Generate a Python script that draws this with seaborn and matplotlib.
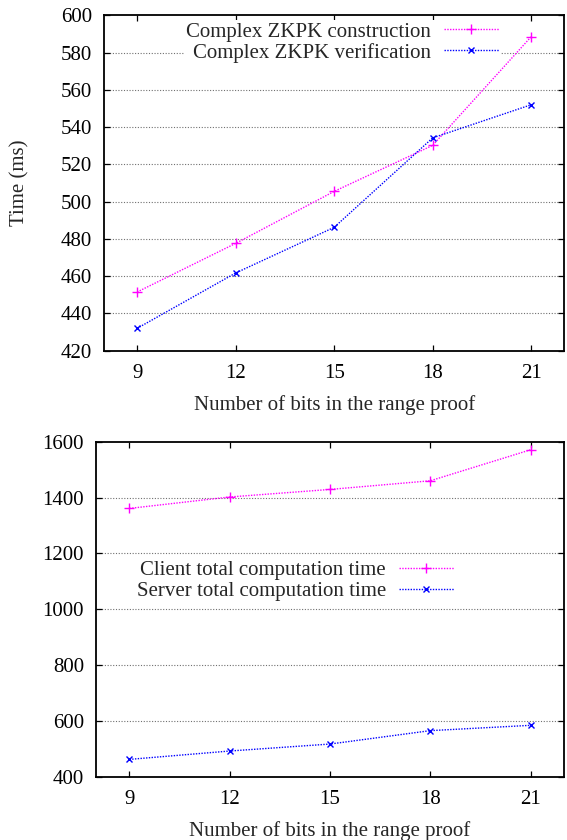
import matplotlib
matplotlib.use('Agg')
import matplotlib.pyplot as plt
import seaborn as sns
import pandas as pd

# ---------------------------------------------------------------- data
bits = [9, 12, 15, 18, 21]
zkpk_construction = [451.5, 477.6, 505.5, 530.2, 588.5]
zkpk_verification = [432.0, 461.7, 486.2, 534.2, 552.0]
client_total = [1361, 1402, 1429, 1460, 1571]
server_total = [462, 492, 517, 565, 584]

top_labels = ['Complex ZKPK construction', 'Complex ZKPK verification']
bottom_labels = ['Client total computation time', 'Server total computation time']

top_yticks = [420, 440, 460, 480, 500, 520, 540, 560, 580, 600]
bottom_yticks = [400, 600, 800, 1000, 1200, 1400, 1600]

MAGENTA = '#ff00ff'
BLUE = '#0000ff'
FS = 15


def draw_panel(ax, series, labels, yticks, legend_anchor):
    df = pd.DataFrame({'bits': bits})
    styles = [(MAGENTA, '+', 6.5), (BLUE, 'x', 5)]
    for vals, lab, (col, mk, ms) in zip(series, labels, styles):
        df[lab] = vals
        sns.lineplot(data=df, x='bits', y=lab, ax=ax, color=col, marker=mk,
                     markersize=ms, markeredgecolor=col, markeredgewidth=1.0,
                     linestyle=(0, (1, 1)), linewidth=1.0, label=lab)

    ax.set_xlim(8, 22)
    ax.set_ylim(yticks[0], yticks[-1])
    ax.set_xticks(bits)
    ax.set_yticks(yticks)
    ax.grid(False)
    for yv in yticks[1:-1]:
        ax.axhline(yv, color='#707070', linestyle=(0, (1, 1.5)), linewidth=0.8, zorder=0)

    ax.tick_params(axis='both', direction='in', top=True, right=True,
                   length=4.1, width=0.9, labelsize=FS, colors='black')
    ax.tick_params(axis='y', pad=8.6)
    ax.tick_params(axis='x', pad=9.5)
    for sp in ax.spines.values():
        sp.set_visible(True)
        sp.set_linewidth(1.3)
        sp.set_color('black')

    ax.set_xlabel('Number of bits in the range proof', fontsize=FS, labelpad=9)
    ax.set_ylabel('')

    leg = ax.legend(loc='center right', bbox_to_anchor=legend_anchor,
                    bbox_transform=ax.figure.transFigure, borderaxespad=0,
                    borderpad=0.1, markerfirst=False, numpoints=1,
                    handlelength=2.65, handletextpad=0.62, labelspacing=0.06,
                    fontsize=FS, frameon=True, fancybox=False,
                    framealpha=1.0, facecolor='white', edgecolor='none')
    for t in leg.get_texts():
        t.set_ha('right')
    return leg


sns.set_style('ticks')
plt.rcParams['font.family'] = ['Liberation Serif', 'DejaVu Serif']

fig = plt.figure(figsize=(5.67, 8.4), dpi=100)
W, H = 567.0, 840.0

ax1 = fig.add_axes([104.3 / W, 1 - 350.7 / H, (564 - 104.3) / W, (350.7 - 15.3) / H])
ax2 = fig.add_axes([96 / W, 1 - 776.7 / H, (564 - 96) / W, (776.7 - 441.7) / H])

draw_panel(ax1, [zkpk_construction, zkpk_verification], top_labels, top_yticks,
           (501 / W, 1 - 42.3 / H))
draw_panel(ax2, [client_total, server_total], bottom_labels, bottom_yticks,
           (456 / W, 1 - 581 / H))

ax1.set_ylabel('Time (ms)', fontsize=FS)
ax1.yaxis.set_label_coords((29 - 104.3) / (564 - 104.3), 0.5)

fig.savefig('out.png', dpi=100)
